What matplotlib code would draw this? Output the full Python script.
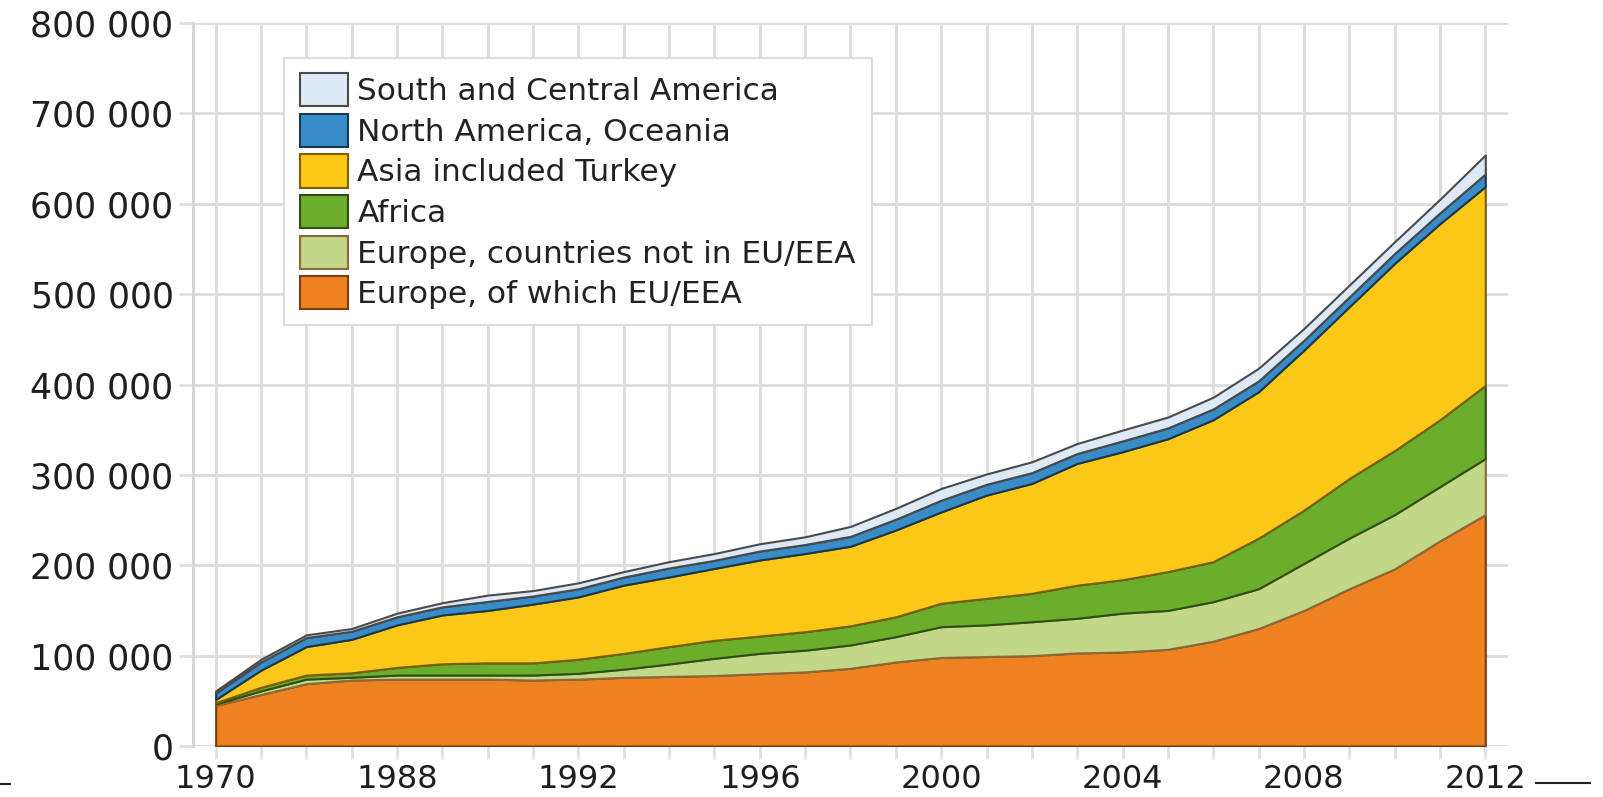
import numpy as np
import matplotlib
matplotlib.use("Agg")
import matplotlib.pyplot as plt
from matplotlib.ticker import FuncFormatter
from matplotlib.lines import Line2D

# categories (SSB style: 1970, 1980, then yearly from 1986)
years = ["1970", "1980", "1986", "1987"] + [str(y) for y in range(1988, 2013)]

# persons
eu_eea = [45000, 57000, 69000, 73000, 74000, 74000, 74000, 73000, 74000, 76000,
          77000, 78000, 80000, 82000, 86000, 93000, 98000, 99000, 100000, 103000,
          104000, 107000, 116000, 130000, 150000, 174000, 196000, 227000, 256000]
europe_other = [1500, 4000, 5000, 3000, 4500, 4500, 4500, 5500, 6400, 9000,
                13700, 19000, 22500, 24000, 25800, 28000, 34000, 35000, 37500, 38300,
                43000, 43000, 43700, 44000, 52000, 56000, 60000, 60000, 62000]
africa = [1500, 4000, 4500, 5000, 8500, 12500, 13500, 13500, 15600, 17500,
          19300, 20000, 19200, 20500, 21200, 22000, 26000, 29400, 31500, 36700,
          37000, 43000, 44300, 56000, 59000, 66000, 71000, 74000, 81000]
asia = [3500, 19000, 31500, 37000, 47000, 54000, 58000, 65000, 69000, 75500,
        77000, 79500, 84100, 86500, 88000, 96000, 101000, 114200, 121500, 134700,
        141600, 147000, 157000, 162000, 177000, 190000, 207000, 217000, 220000]
north_america_oceania = [7000, 9000, 10000, 9000, 9000, 9000, 10000, 9000, 9000, 9000,
                         10000, 9000, 10000, 10000, 11000, 12000, 13000, 12000, 12000, 11000,
                         12000, 12000, 12000, 12000, 11000, 11000, 11000, 12000, 14000]
south_central_america = [2500, 3000, 3000, 3000, 4000, 4600, 7000, 6000, 6600, 6000,
                         7000, 7500, 8000, 8500, 11000, 12000, 13000, 11400, 12000, 11000,
                         12000, 12000, 13000, 14000, 13000, 13000, 13000, 15000, 21000]

series = [
    ("Europe, of which EU/EEA", eu_eea, "#ef8220", "#7a3d10"),
    ("Europe, countries not in EU/EEA", europe_other, "#c2d888", "#8a6a3a"),
    ("Africa", africa, "#6aae2c", "#2f4f12"),
    ("Asia included Turkey", asia, "#fcc817", "#7a5e08"),
    ("North America, Oceania", north_america_oceania, "#3a8cc6", "#17364f"),
    ("South and Central America", south_central_america, "#dde9f5", "#4a4a4a"),
]

fig = plt.figure(figsize=(16.03, 7.97), dpi=100)
ax = fig.add_axes([0.1204, 0.064, 0.8203, 0.9071])

x = np.arange(len(years))
base = np.zeros(len(years))
handles = []
for label, vals, fc, ec in series:
    top = base + np.array(vals, dtype=float)
    h = ax.fill_between(x, base, top, facecolor=fc, edgecolor=ec, linewidth=1.5,
                        label=label, zorder=3)
    handles.append(h)
    base = top

ax.set_xlim(-0.5, 28.5)
ax.set_ylim(0, 800000)
ax.set_xticks(x)
ax.set_xticklabels([y if i % 4 == 0 else "" for i, y in enumerate(years)])
ax.set_yticks(np.arange(0, 800001, 100000))
ax.yaxis.set_major_formatter(FuncFormatter(lambda v, p: f"{int(v):,}".replace(",", " ")))

ax.grid(True, color="#dcdcdc", linewidth=2, zorder=0)
ax.set_axisbelow(True)
for s in ["top", "right", "bottom"]:
    ax.spines[s].set_visible(False)
ax.spines["left"].set_color("#d4d4d4")
ax.spines["left"].set_linewidth(2)

ax.tick_params(axis="x", length=9, width=2, color="#e0e0e0", pad=4,
               labelsize=23, labelcolor="#1e1e1e")
ax.tick_params(axis="y", length=10, width=2, color="#e0e0e0", pad=4,
               labelsize=25, labelcolor="#1e1e1e")

leg = ax.legend(handles[::-1], [s[0] for s in series][::-1],
                loc="upper left", bbox_to_anchor=(0.0692, 0.952), borderaxespad=0,
                fontsize=22.5, frameon=True, fancybox=False, framealpha=1,
                edgecolor="#dddddd", handlelength=1.55, handleheight=1.25,
                handletextpad=0.3, labelspacing=0.24, borderpad=0.5)
leg.get_frame().set_linewidth(1.5)
leg.set_zorder(5)
for t in leg.get_texts():
    t.set_color("#222222")

# stray dashes at the bottom edges of the original image
fig.add_artist(Line2D([0.0, 0.006], [0.016, 0.016], color="#222222", lw=1.5))
fig.add_artist(Line2D([0.958, 0.992], [0.0175, 0.0175], color="#222222", lw=1.5))

fig.savefig("out.png", dpi=100)
